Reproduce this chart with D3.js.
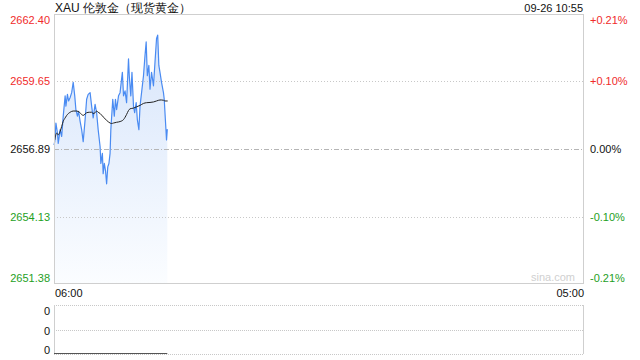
<!DOCTYPE html>
<html><head><meta charset="utf-8">
<script src="https://cdn.jsdelivr.net/npm/d3@7"></script>
<style>
html,body{margin:0;padding:0;background:#fff;}
svg{display:block;font-family:"Liberation Sans",Arial,sans-serif;}
</style></head>
<body><svg id="c" width="640" height="360"></svg>
<script>
// ---- data ----
const title = "XAU 伦敦金（现货黄金）";
const stamp = "09-26 10:55";
const prevClose = 2656.89;
const leftTicks = [2662.40, 2659.65, 2656.89, 2654.13, 2651.38];
const rightTickLabels = ["+0.21%", "+0.10%", "0.00%", "-0.10%", "-0.21%"];
const timeLabels = ["06:00", "05:00"];
// minutes since 06:00
const priceMinutes = [0,2,5,9,11,16,20,24,29,31,35,38,42,46,50,54,57,61,64,68,72,76,81,85,89,94,98,102,107,111,115,120,122,126,128,131,134,137,140,143,146,148,153,157,160,163,168,172,175,178,181,185,189,194,196,200,203,207,210,214,217,221,224,228,233,237,240,243,247,250,254,259,263,267,270,273,276,280,285,287,290,293,295];
const prices = [2657.05,2657.20,2657.95,2657.54,2657.12,2657.68,2657.40,2658.23,2659.06,2658.64,2659.12,2658.85,2658.99,2659.19,2659.61,2659.06,2658.50,2658.23,2658.43,2658.02,2657.68,2657.19,2658.09,2658.92,2659.12,2659.19,2658.64,2658.16,2658.71,2658.37,2657.68,2656.99,2656.30,2656.71,2655.88,2656.30,2656.02,2655.47,2656.16,2656.30,2656.71,2657.68,2658.92,2658.23,2658.92,2658.50,2659.06,2659.19,2659.61,2660.02,2659.06,2659.26,2658.78,2660.57,2659.88,2659.06,2660.02,2658.64,2658.37,2658.78,2658.09,2657.68,2658.64,2659.19,2659.88,2660.71,2661.26,2659.88,2660.30,2659.33,2660.02,2659.47,2660.44,2661.40,2661.54,2660.30,2660.02,2659.61,2659.19,2658.92,2658.09,2657.26,2657.70];
const avgMinutes = [2,7,11,16,20,24,29,33,42,50,59,66,72,76,81,85,92,98,102,107,111,115,120,128,137,146,150,155,163,172,181,189,194,198,207,215,224,233,241,250,259,267,276,280,285,289,296];
const avgPrices = [2657.26,2657.54,2657.47,2657.61,2657.81,2658.02,2658.16,2658.26,2658.39,2658.44,2658.44,2658.39,2658.30,2658.26,2658.32,2658.37,2658.39,2658.39,2658.34,2658.37,2658.44,2658.39,2658.34,2658.20,2658.06,2657.95,2657.93,2657.95,2657.98,2658.01,2658.09,2658.30,2658.46,2658.53,2658.56,2658.61,2658.67,2658.75,2658.78,2658.79,2658.81,2658.85,2658.89,2658.89,2658.88,2658.85,2658.85];
const volMinutes = [0, 295];
const volumes = [0, 0];
const volTickLabels = ["0", "0", "0"];

// ---- layout ----
const svg = d3.select("#c");
const L = 54, R = 584, T = 14, B = 284;
const VT = 305, VB = 354;
const red = "#f02b2b", green = "#1ea01e", grey = "#cfcfcf";

const x = d3.scaleLinear().domain([0, 1380]).range([L, R]);
const y = d3.scaleLinear().domain([leftTicks[4], leftTicks[0]]).range([B, T]);
const vy = d3.scaleLinear().domain([0, 1]).range([VB, VT]);

const defs = svg.append("defs");
const grad = defs.append("linearGradient").attr("id","fillg")
  .attr("gradientUnits","userSpaceOnUse").attr("x1",0).attr("x2",0).attr("y1",T+20).attr("y2",B);
grad.append("stop").attr("offset","0%").attr("stop-color","#d7e5fb");
grad.append("stop").attr("offset","100%").attr("stop-color","#fbfdff");

// title & stamp
svg.append("text").attr("x", 55).attr("y", 12).attr("font-size", 12).attr("fill","#111").text(title);
svg.append("text").attr("x", 583).attr("y", 12).attr("text-anchor","end").attr("font-size", 11).attr("fill","#111").text(stamp);

// area + lines
const pts = priceMinutes.map((m,i)=>({m, v: prices[i]}));
svg.append("path").datum(pts)
  .attr("d", d3.area().x(d=>x(d.m)).y0(B).y1(d=>y(d.v)))
  .attr("fill","url(#fillg)");

// grid lines
leftTicks.slice(1,4).forEach(v=>{
  svg.append("line").attr("x1",L).attr("x2",R).attr("y1",Math.round(y(v))+0.5).attr("y2",Math.round(y(v))+0.5)
    .attr("stroke", v===prevClose ? "#b5b5b5" : "#c8c8c8")
    .attr("stroke-dasharray", v===prevClose ? "5,2,1,2" : "1,2");
});

svg.append("path").datum(pts)
  .attr("d", d3.line().x(d=>x(d.m)).y(d=>y(d.v)))
  .attr("fill","none").attr("stroke","#4a8bf2").attr("stroke-width",1.2).attr("stroke-linejoin","round");

const avg = avgMinutes.map((m,i)=>({m, v: avgPrices[i]}));
svg.append("path").datum(avg)
  .attr("d", d3.line().curve(d3.curveMonotoneX).x(d=>x(d.m)).y(d=>y(d.v)))
  .attr("fill","none").attr("stroke","#222").attr("stroke-width",1);

// frame
svg.append("rect").attr("x",L+0.5).attr("y",T+0.5).attr("width",R-L-1).attr("height",B-T-1)
  .attr("fill","none").attr("stroke",grey);

// watermark
svg.append("text").attr("x",575).attr("y",281).attr("text-anchor","end").attr("font-size",11).attr("fill","#d0d0d0").text("sina.com");

// left axis
const colorFor = v => v > prevClose ? red : (v < prevClose ? green : "#111");
const leftAxis = svg.append("g").attr("transform",`translate(${L},0)`)
  .call(d3.axisLeft(y).tickValues(leftTicks).tickSize(0).tickPadding(4).tickFormat(d3.format(".2f")));
leftAxis.select(".domain").remove();
leftAxis.selectAll("text").attr("font-size",11).attr("font-family","Liberation Sans, Arial, sans-serif")
  .attr("fill", d=>colorFor(d))
  .attr("y", (d,i)=> i===0 ? 6 : (i===leftTicks.length-1 ? -6 : 0));

// right axis
const rightAxis = svg.append("g").attr("transform",`translate(${R},0)`)
  .call(d3.axisRight(y).tickValues(leftTicks).tickSize(0).tickPadding(6).tickFormat((d,i)=>rightTickLabels[i]));
rightAxis.select(".domain").remove();
rightAxis.selectAll("text").attr("font-size",11).attr("font-family","Liberation Sans, Arial, sans-serif")
  .attr("fill", d=>colorFor(d))
  .attr("y", (d,i)=> i===0 ? 6 : (i===leftTicks.length-1 ? -6 : 0));

// time axis
const tx = d3.scaleOrdinal().domain(timeLabels).range([L+1, R]);
svg.selectAll("text.tl").data(timeLabels).join("text").attr("class","tl")
  .attr("x", d=>tx(d)).attr("y", 297).attr("font-size",11).attr("fill","#111")
  .attr("text-anchor",(d,i)=> i===0 ? "start" : "end").text(d=>d);

// volume panel
[VT, (VT+VB)/2, VB].forEach(yy=>{
  svg.append("line").attr("x1",L).attr("x2",R).attr("y1",Math.round(yy)+0.5).attr("y2",Math.round(yy)+0.5)
    .attr("stroke","#c8c8c8").attr("stroke-dasharray","1,1");
});
svg.append("line").attr("x1",L+0.5).attr("x2",L+0.5).attr("y1",VT).attr("y2",VB).attr("stroke",grey);
svg.append("line").attr("x1",R-0.5).attr("x2",R-0.5).attr("y1",VT).attr("y2",VB).attr("stroke",grey);
const vpts = volMinutes.map((m,i)=>({m, v: volumes[i]}));
svg.append("path").datum(vpts)
  .attr("d", d3.line().x(d=>x(d.m)).y(d=>vy(d.v)-0.5))
  .attr("fill","none").attr("stroke","#555").attr("stroke-width",1);
const volY = [315, 335, 354];
svg.selectAll("text.vl").data(volTickLabels).join("text").attr("class","vl")
  .attr("x", 50).attr("y",(d,i)=>volY[i]).attr("text-anchor","end").attr("font-size",11).attr("fill","#111").text(d=>d);
</script></body></html>
